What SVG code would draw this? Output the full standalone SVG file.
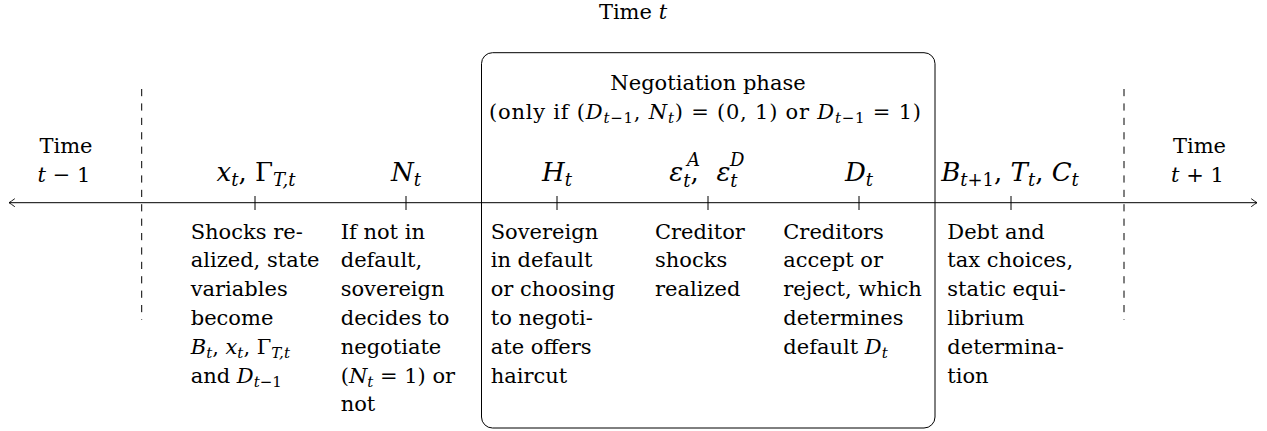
<svg xmlns="http://www.w3.org/2000/svg" width="1267" height="431" viewBox="0 0 1267 431" font-family="'DejaVu Serif', serif">
<defs>
<style>
text{font-family:"DejaVu Serif",serif;fill:#000;}
.b{font-size:21px;}
.m{font-size:26px;font-style:italic;}
.i{font-style:italic;}
.u{font-style:normal;}
.s{font-size:15px;}
.ms{font-size:18px;}
.ln{stroke:#000;stroke-width:1;fill:none;}
.dash{stroke:#000;stroke-width:1;stroke-dasharray:7.2 7.2;fill:none;}
</style>
<marker id="arr" viewBox="-7 -5 8 10" refX="0" refY="0" markerWidth="8" markerHeight="10" orient="auto-start-reverse" markerUnits="userSpaceOnUse">
<path d="M-5.5,-3.8 Q-2,-1.2 0,0 Q-2,1.2 -5.5,3.8" fill="none" stroke="#000" stroke-width="0.9" stroke-linecap="round"/>
</marker>
</defs>
<rect width="1267" height="431" fill="#fff"/>

<g id="phase-box">
<rect x="481.5" y="52.7" width="453.5" height="375.3" rx="11" ry="11" class="ln"/>
<text class="b" x="708" y="90" text-anchor="middle">Negotiation phase</text>
<text class="b" x="705" y="118.5" text-anchor="middle" textLength="432" lengthAdjust="spacing">(only if (<tspan class="i">D</tspan><tspan class="s i" baseline-shift="-4">t</tspan><tspan class="s" baseline-shift="-4">−1</tspan>, <tspan class="i">N</tspan><tspan class="s i" baseline-shift="-4">t</tspan>) = (0, 1) or <tspan class="i">D</tspan><tspan class="s i" baseline-shift="-4">t</tspan><tspan class="s" baseline-shift="-4">−1</tspan> = 1)</text>
</g>

<g id="connectors">
<line x1="9" y1="202.7" x2="1257" y2="202.7" class="ln" marker-start="url(#arr)" marker-end="url(#arr)"/>
<line x1="141.7" y1="89" x2="141.7" y2="320" class="dash"/>
<line x1="1124" y1="89" x2="1124" y2="320" class="dash"/>
<line x1="255" y1="196" x2="255" y2="210" class="ln"/>
<line x1="406" y1="196" x2="406" y2="210" class="ln"/>
<line x1="557" y1="196" x2="557" y2="210" class="ln"/>
<line x1="708" y1="196" x2="708" y2="210" class="ln"/>
<line x1="859" y1="196" x2="859" y2="210" class="ln"/>
<line x1="1011" y1="196" x2="1011" y2="210" class="ln"/>
</g>

<g id="title">
<text class="b" x="633" y="19" text-anchor="middle">Time <tspan class="i">t</tspan></text>
</g>

<g id="time-prev">
<text class="b" x="66" y="153" text-anchor="middle">Time</text>
<text class="b" x="64" y="181.5" text-anchor="middle"><tspan class="i">t</tspan> − 1</text>
</g>

<g id="time-next">
<text class="b" x="1199.5" y="153" text-anchor="middle">Time</text>
<text class="b" x="1197.5" y="181.5" text-anchor="middle"><tspan class="i">t</tspan> + 1</text>
</g>

<g id="event-shocks">
<text class="m" x="256" y="181" text-anchor="middle">x<tspan class="ms" baseline-shift="-5">t</tspan><tspan class="u">, </tspan><tspan class="u">Γ</tspan><tspan class="ms" baseline-shift="-5">T,t</tspan></text>
<text class="b" x="190.7" y="238.5">Shocks re-</text>
<text class="b" x="190.7" y="267.3">alized, state</text>
<text class="b" x="190.7" y="296.1">variables</text>
<text class="b" x="190.7" y="324.9">become</text>
<text class="b" x="190.7" y="353.7"><tspan class="i">B</tspan><tspan class="s i" baseline-shift="-4">t</tspan>, <tspan class="i">x</tspan><tspan class="s i" baseline-shift="-4">t</tspan>, Γ<tspan class="s i" baseline-shift="-4">T,t</tspan></text>
<text class="b" x="190.7" y="382.5">and <tspan class="i">D</tspan><tspan class="s i" baseline-shift="-4">t</tspan><tspan class="s" baseline-shift="-4">−1</tspan></text>
</g>

<g id="event-negotiate">
<text class="m" x="406" y="181" text-anchor="middle">N<tspan class="ms" baseline-shift="-5">t</tspan></text>
<text class="b" x="340.7" y="238.5">If not in</text>
<text class="b" x="340.7" y="267.3">default,</text>
<text class="b" x="340.7" y="296.1">sovereign</text>
<text class="b" x="340.7" y="324.9">decides to</text>
<text class="b" x="340.7" y="353.7">negotiate</text>
<text class="b" x="340.7" y="382.5">(<tspan class="i">N</tspan><tspan class="s i" baseline-shift="-4">t</tspan> = 1) or</text>
<text class="b" x="340.7" y="411.3">not</text>
</g>

<g id="event-haircut">
<text class="m" x="557" y="181" text-anchor="middle">H<tspan class="ms" baseline-shift="-5">t</tspan></text>
<text class="b" x="490.7" y="238.5">Sovereign</text>
<text class="b" x="490.7" y="267.3">in default</text>
<text class="b" x="490.7" y="296.1">or choosing</text>
<text class="b" x="490.7" y="324.9">to negoti-</text>
<text class="b" x="490.7" y="353.7">ate offers</text>
<text class="b" x="490.7" y="382.5">haircut</text>
</g>

<g id="event-creditor-shocks">
<text class="m" x="684" y="181" text-anchor="middle">ε<tspan class="ms" baseline-shift="-6">t</tspan><tspan class="u">,</tspan></text>
<text class="ms i" x="687" y="166">A</text>
<text class="m" x="727" y="181" text-anchor="middle">ε<tspan class="ms" baseline-shift="-6">t</tspan></text>
<text class="ms i" x="730" y="166">D</text>
<text class="b" x="655" y="238.5">Creditor</text>
<text class="b" x="655" y="267.3">shocks</text>
<text class="b" x="655" y="296.1">realized</text>
</g>

<g id="event-default">
<text class="m" x="859" y="181" text-anchor="middle">D<tspan class="ms" baseline-shift="-5">t</tspan></text>
<text class="b" x="783.3" y="238.5">Creditors</text>
<text class="b" x="783.3" y="267.3">accept or</text>
<text class="b" x="783.3" y="296.1">reject, which</text>
<text class="b" x="783.3" y="324.9">determines</text>
<text class="b" x="783.3" y="353.7">default <tspan class="i">D</tspan><tspan class="s i" baseline-shift="-4">t</tspan></text>
</g>

<g id="event-choices">
<text class="m" x="1010" y="181" text-anchor="middle">B<tspan class="ms" baseline-shift="-5">t<tspan class="u">+1</tspan></tspan><tspan class="u">, </tspan>T<tspan class="ms" baseline-shift="-5">t</tspan><tspan class="u">, </tspan>C<tspan class="ms" baseline-shift="-5">t</tspan></text>
<text class="b" x="947.3" y="238.5">Debt and</text>
<text class="b" x="947.3" y="267.3">tax choices,</text>
<text class="b" x="947.3" y="296.1">static equi-</text>
<text class="b" x="947.3" y="324.9">librium</text>
<text class="b" x="947.3" y="353.7">determina-</text>
<text class="b" x="947.3" y="382.5">tion</text>
</g>
</svg>
